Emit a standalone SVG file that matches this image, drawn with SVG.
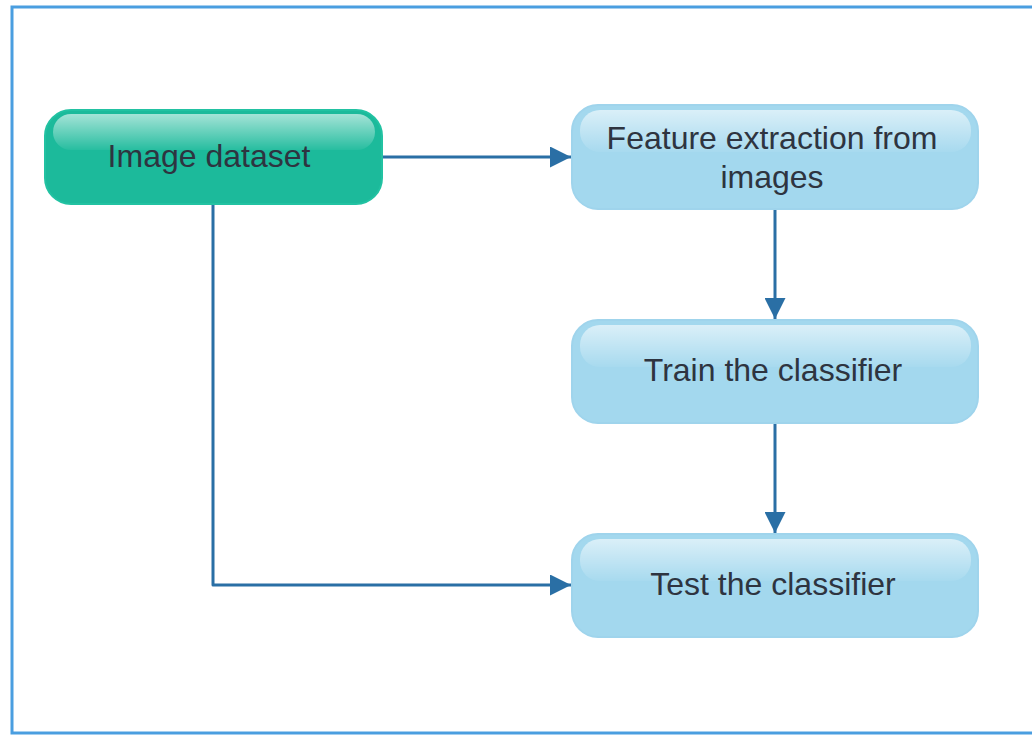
<svg xmlns="http://www.w3.org/2000/svg" width="1032" height="735" viewBox="0 0 1032 735">
  <style>
    .lbl { font-family: "Liberation Sans", Arial, sans-serif; font-size: 32px; fill: #2e3440; text-anchor: middle; }
    .conn { fill: none; stroke: #2a6fa5; stroke-width: 3; stroke-linejoin: round; }
  </style>
  <defs>
    <linearGradient id="gloss" x1="0" y1="0" x2="0" y2="1">
      <stop offset="0" stop-color="#ffffff" stop-opacity="0.6"/>
      <stop offset="1" stop-color="#ffffff" stop-opacity="0.05"/>
    </linearGradient>
    <marker id="arrow" viewBox="0 0 10 10" refX="10" refY="5" markerWidth="7" markerHeight="7" markerUnits="strokeWidth" orient="auto">
      <path d="M0,0 L10,5 L0,10 z" fill="#2a6fa5"/>
    </marker>
  </defs>

  <rect x="0" y="0" width="1032" height="735" fill="#ffffff"/>
  <!-- outer frame -->
  <rect x="12" y="7" width="1040" height="726" fill="none" stroke="#4a9ee0" stroke-width="3"/>

  <!-- connectors -->
  <g id="connectors">
    <path class="conn" d="M382,157 L571,157" marker-end="url(#arrow)"/>
    <path class="conn" d="M775,209 L775,319" marker-end="url(#arrow)"/>
    <path class="conn" d="M775,423 L775,533" marker-end="url(#arrow)"/>
    <path class="conn" d="M213,204 L213,585 L571,585" marker-end="url(#arrow)"/>
  </g>

  <g id="image-dataset">
    <rect x="45" y="110" width="337" height="94" rx="26" fill="#1cba9b" stroke="#22c2a2" stroke-width="2"/>
    <rect x="53" y="114" width="322" height="36" rx="18" fill="url(#gloss)"/>
    <text class="lbl" x="209" y="167">Image dataset</text>
  </g>

  <g id="feature-extraction">
    <rect x="572" y="105" width="406" height="104" rx="26" fill="#a3d8ee" stroke="#9fd4ec" stroke-width="2"/>
    <rect x="580" y="110" width="391" height="42" rx="20" fill="url(#gloss)"/>
    <text class="lbl" x="772" y="149">Feature extraction from</text>
    <text class="lbl" x="772" y="188">images</text>
  </g>

  <g id="train-classifier">
    <rect x="572" y="320" width="406" height="103" rx="26" fill="#a3d8ee" stroke="#9fd4ec" stroke-width="2"/>
    <rect x="580" y="325" width="391" height="42" rx="20" fill="url(#gloss)"/>
    <text class="lbl" x="773" y="381">Train the classifier</text>
  </g>

  <g id="test-classifier">
    <rect x="572" y="534" width="406" height="103" rx="26" fill="#a3d8ee" stroke="#9fd4ec" stroke-width="2"/>
    <rect x="580" y="539" width="391" height="42" rx="20" fill="url(#gloss)"/>
    <text class="lbl" x="773" y="595">Test the classifier</text>
  </g>
</svg>
